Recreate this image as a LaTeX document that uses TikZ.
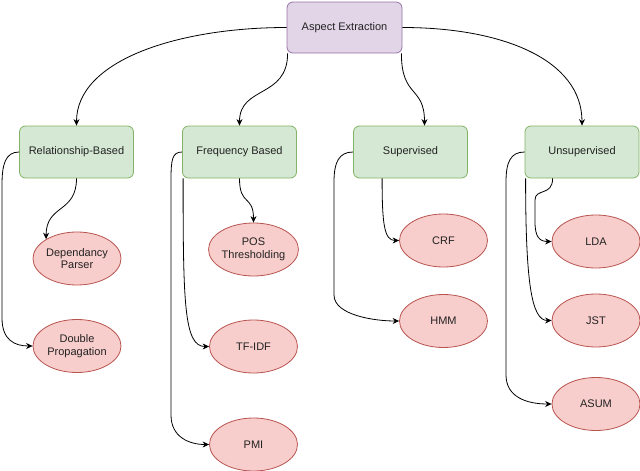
\documentclass[tikz,border=0pt]{standalone}
\usepackage{fontspec}
\setmainfont{Liberation Sans}
\usetikzlibrary{shapes.geometric,arrows.meta}
\definecolor{purpfill}{HTML}{E1D5E7}
\definecolor{purpline}{HTML}{9673A6}
\definecolor{greenfill}{HTML}{D5E8D4}
\definecolor{greenline}{HTML}{82B366}
\definecolor{redfill}{HTML}{F8CECC}
\definecolor{redline}{HTML}{B85450}
\definecolor{txt}{HTML}{222222}
\begin{document}
\begin{tikzpicture}[x=1pt,y=1pt,
  box/.style={rectangle, rounded corners=6pt, minimum width=114pt, minimum height=52pt,
    line width=0.8pt, font=\fontsize{11}{12.5}\selectfont, text=txt, align=center, inner sep=0pt},
  topbox/.style={box, fill=purpfill, draw=purpline, minimum width=115pt, minimum height=51pt},
  catbox/.style={box, fill=greenfill, draw=greenline},
  leaf/.style={ellipse, fill=redfill, draw=redline, minimum width=88pt, minimum height=53pt,
    inner sep=0pt, line width=0.8pt, font=\fontsize{11}{12.5}\selectfont, text=txt, align=center},
  conn/.style={-{Stealth[length=6.5pt,width=6pt]}, line width=0.8pt}]
\useasboundingbox (0,0) rectangle (640,-471);

\node[topbox] (ae) at (344.5,-27.5) {Aspect Extraction};

\node[catbox] (rel) at (76.5,-152) {Relationship-Based};
\node[catbox] (freq) at (239.5,-152) {Frequency Based};
\node[catbox] (sup) at (410.5,-152) {Supervised};
\node[catbox] (uns) at (582,-152) {Unsupervised};

\node[leaf] (dp) at (77,-258.5) {Dependancy\\Parser};
\node[leaf] (dbl) at (77,-346) {Double\\Propagation};
\node[leaf] (pos) at (253.5,-249.5) {POS\\Thresholding};
\node[leaf] (tfidf) at (253.5,-346.5) {TF-IDF};
\node[leaf] (pmi) at (253.5,-444.5) {PMI};
\node[leaf] (crf) at (443.5,-240.5) {CRF};
\node[leaf] (hmm) at (443.5,-321) {HMM};
\node[leaf] (lda) at (596,-241.5) {LDA};
\node[leaf] (jst) at (596,-320.5) {JST};
\node[leaf] (asum) at (596,-404) {ASUM};

% top level
\draw[conn] (ae.west) .. controls +(-107,0) and +(0,66) .. (rel.north);
\draw[conn] ([xshift=1pt]ae.south west) .. controls +(0,-45) and +(0,40) .. (freq.north);
\draw[conn] ([xshift=-1pt]ae.south east) .. controls +(0,-45) and +(0,40) .. ([xshift=14pt]sup.north);
\draw[conn] (ae.east) .. controls +(100,0) and +(0,66) .. (uns.north);

% relationship-based
\draw[conn] (rel.south) .. controls +(0,-35) and +(0,35) .. (dp.148);
\draw[conn] (rel.west) .. controls +(-14,0) and +(0,20) .. (2,-185) -- (2,-318)
  .. controls +(0,-22) and +(-18,0) .. (dbl.west);

% frequency based
\draw[conn] (freq.south) .. controls +(0,-28) and +(0,28) .. (pos.north);
\draw[conn] ([xshift=1pt]freq.south west) .. controls +(0,-125) and +(-25,0) .. (tfidf.west);
\draw[conn] (freq.west) .. controls +(-10,0) and +(0,20) .. (171,-180) -- (171,-415)
  .. controls +(0,-22) and +(-20,0) .. (pmi.west);

% supervised
\draw[conn] ([xshift=29pt]sup.south west) .. controls +(0,-45) and +(-15,0) .. (crf.west);
\draw[conn] (sup.west) .. controls +(-14,0) and +(0,20) .. (334,-182) -- (334,-295)
  .. controls +(0,-20) and +(-25,0) .. (hmm.west);

% unsupervised
\draw[conn] ([xshift=28pt]uns.south west) .. controls +(0,-18) and +(0,12) .. (535,-200) -- (535,-222)
  .. controls +(0,-15) and +(-12,0) .. (lda.west);
\draw[conn] ([xshift=1pt]uns.south west) .. controls +(0,-105) and +(-20,0) .. (jst.west);
\draw[conn] (uns.west) .. controls +(-14,0) and +(0,20) .. (506,-182) -- (506,-375)
  .. controls +(0,-22) and +(-25,0) .. (asum.west);
\end{tikzpicture}
\end{document}
